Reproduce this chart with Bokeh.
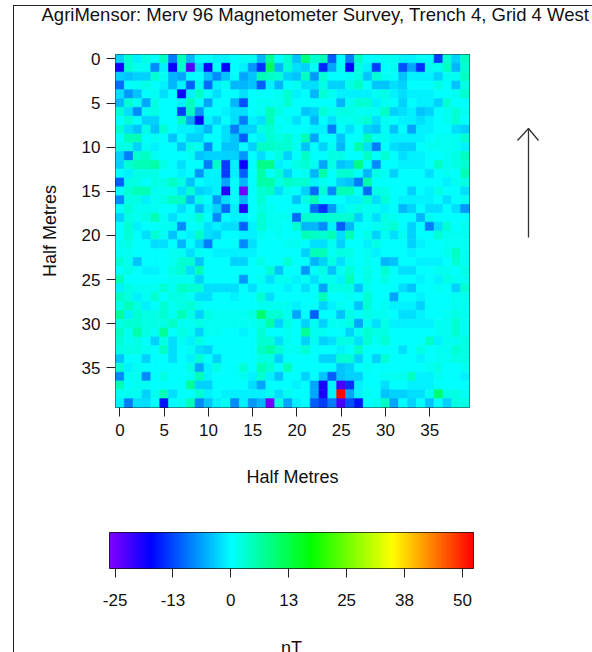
import colorsys
import numpy as np
from bokeh.core.properties import value
from bokeh.embed import file_html
from bokeh.models import ColumnDataSource, Div, FixedTicker, LinearColorMapper, Range1d
from bokeh.plotting import figure
from bokeh.resources import INLINE

title_text = "AgriMensor: Merv 96 Magnetometer Survey, Trench 4, Grid 4 West"
grid_label = "Half Metres"
bar_label = "nT"
grid_ticks = [0, 5, 10, 15, 20, 25, 30, 35]
bar_ticks = [-25, -12.5, 0, 12.5, 25, 37.5, 50]
bar_tick_labels = ["-25", "-13", "0", "13", "25", "38", "50"]
value_low = -26.2
value_high = 52.4

rows = [
    [-3,3,-1,2,0,4,-9,5,-5,0,0,-1,-1,0,1,1,-5,7,0,3,-4,9,3,5,-11,0,-9,4,0,0,1,1,-1,-1,0,0,-13,3,-3,4],
    [-19,3,1,1,-8,-1,-18,3,-23,-2,-18,0,-17,0,-1,-7,-14,11,-5,3,-2,-3,1,-15,-6,1,-17,2,-1,-13,0,1,-12,-6,-14,1,1,4,-5,3],
    [-3,-4,-3,-3,3,1,-5,-6,0,0,-4,-8,-4,0,-6,-4,5,4,3,-3,-4,4,-7,3,0,0,1,2,-4,3,1,0,-4,-1,-1,-1,-3,1,1,4],
    [-10,0,1,2,0,-1,-5,-1,-11,1,-10,-1,1,-5,-5,-4,-11,-1,-5,0,1,-2,-2,2,-3,-3,2,4,0,-4,-4,-2,-3,0,0,0,2,0,-4,2],
    [-2,-7,-4,0,1,-2,0,-18,-1,4,0,-2,0,0,-2,0,0,0,1,3,-1,0,-5,3,1,-1,-1,-1,-1,1,2,-1,-2,-1,-1,-1,0,0,1,3],
    [-5,3,1,-6,2,0,0,-1,5,0,-6,0,0,-5,-12,0,1,1,1,3,0,0,0,0,0,-5,1,3,3,-1,1,0,-3,0,-1,-1,-3,3,0,0],
    [3,-2,-8,1,2,0,0,-13,5,-7,0,0,-1,-2,-2,0,1,5,2,0,0,-4,-3,3,1,2,2,1,1,1,4,-3,-2,-1,-4,-3,0,1,3,1],
    [0,3,0,-3,-3,0,0,4,-6,-18,-1,-3,0,-2,-9,-1,-2,5,0,1,-2,0,-5,0,-2,1,1,2,3,-2,1,0,-1,-1,-2,-1,0,1,3,0],
    [3,-2,-4,2,-4,3,0,-1,-1,-2,-5,0,-2,-9,-3,-3,2,3,1,0,0,0,-1,-1,-9,0,-2,0,-3,-4,1,-4,0,-6,-1,-1,0,0,-2,-3],
    [0,5,5,0,1,0,-4,0,-3,-3,0,0,-2,-4,-11,0,-1,3,2,3,1,5,-6,0,0,-4,0,0,5,1,1,-1,-1,-1,-1,0,1,1,1,3],
    [2,2,-3,1,-1,0,0,-4,2,1,-8,0,-4,-4,0,-3,4,4,3,3,1,-4,0,-3,1,-5,0,6,-2,-9,0,-2,-3,-3,0,1,1,1,1,-1],
    [-3,-9,3,4,1,0,0,0,1,-4,-3,-3,-3,-3,-7,0,-2,0,2,-3,0,4,0,0,2,2,0,0,4,0,3,0,-2,-1,-1,0,0,1,2,4],
    [-3,3,5,5,6,2,0,-2,0,0,-9,4,-13,-1,-18,0,8,8,-1,0,2,3,1,-6,2,-4,-3,9,0,-8,0,0,-1,-1,-1,0,4,1,2,3],
    [0,-1,2,2,2,0,0,-1,0,-7,-1,-1,-13,-1,-11,0,6,0,3,-3,0,1,-5,6,0,3,3,0,-5,2,1,-3,0,0,0,-2,0,1,0,5],
    [-11,2,2,0,2,2,4,2,-4,0,-1,-1,-6,0,-5,0,6,6,2,4,3,3,-1,1,0,-3,-4,-9,6,0,0,0,0,0,0,0,0,-1,1,2],
    [0,3,5,5,1,1,1,-2,3,-3,-2,-1,-20,0,-25,0,3,4,-2,1,0,-3,-10,3,-8,5,5,0,-10,2,2,0,0,-3,0,-1,2,0,0,-2],
    [-8,2,2,-1,1,2,4,4,-5,2,0,-7,-2,0,-5,0,3,0,0,0,-4,2,5,0,0,0,-1,-1,3,-2,3,0,-1,-1,-1,-1,0,-2,0,1],
    [0,3,1,1,1,0,0,-2,0,-5,-1,-3,-10,-1,-20,0,2,1,0,0,0,0,-10,-14,-7,-1,1,2,1,1,-1,0,-5,-3,0,-2,-2,0,-2,-7],
    [-3,2,1,2,5,1,-2,0,1,3,0,-8,0,-1,-1,0,3,1,1,1,-10,3,3,3,3,3,3,-3,1,-2,2,1,0,0,-5,1,0,0,0,0],
    [0,3,-1,0,0,1,1,-8,0,1,-2,-1,-2,-2,-11,-1,3,1,1,0,3,-5,-5,-8,-1,-11,-5,0,0,1,2,3,0,-3,0,-9,-2,3,0,1],
    [0,3,0,-2,3,1,-4,0,-1,4,-2,-3,0,0,-1,-1,1,0,1,0,0,5,4,3,5,-2,5,0,2,-3,1,-2,1,-3,0,0,3,1,1,1],
    [1,2,0,0,-2,-2,0,-5,0,-3,-9,0,0,0,-8,-2,0,0,0,1,1,0,-2,-2,1,-3,0,0,-1,2,0,0,0,-3,-1,0,0,1,1,1],
    [1,1,0,0,0,0,1,1,-2,1,0,-1,-1,-1,-1,-1,0,0,0,0,0,-3,5,5,1,2,2,0,1,-1,0,0,0,-1,0,0,0,1,4,1],
    [3,1,-4,0,0,0,1,3,3,-4,0,0,0,-3,-3,0,2,0,0,3,0,0,-5,-3,2,-2,1,0,1,0,-5,-4,0,0,-1,-1,-1,0,3,1],
    [0,2,0,-1,-1,0,2,3,-2,5,0,0,0,0,0,0,0,3,-4,0,0,-7,0,2,-4,1,3,0,2,0,3,0,-2,-2,0,0,1,1,0,2],
    [5,0,0,0,0,0,1,1,1,-3,0,0,0,0,-7,0,1,-2,1,1,-1,1,-2,1,1,-1,5,0,2,0,2,0,0,0,-1,0,-1,2,1,1],
    [-1,2,1,1,1,3,1,4,3,3,-2,-2,-2,-2,0,-2,0,0,0,-1,0,-2,0,-6,2,2,2,-4,1,0,0,0,-2,-4,0,0,1,0,-3,3],
    [4,2,-1,1,3,0,2,2,1,-2,-2,0,0,-1,0,0,3,-2,0,0,0,0,0,5,0,0,1,0,3,0,0,-6,0,0,-1,0,0,0,1,1],
    [2,5,2,-1,0,3,1,2,3,1,0,0,0,0,0,0,1,1,1,1,-1,0,0,-3,-1,1,0,-4,3,0,1,-1,-1,-1,-3,0,0,0,1,1],
    [7,-1,3,2,2,3,1,5,2,-3,2,1,1,1,1,2,10,3,3,1,-6,0,-11,0,0,-4,2,0,2,1,1,0,-2,-2,-1,0,0,1,2,1],
    [2,3,3,2,2,2,4,1,1,2,1,1,1,1,1,1,2,6,-3,2,0,-3,1,-3,1,1,2,-6,1,-2,2,-1,-1,-1,-1,-1,1,1,3,1],
    [4,1,6,2,1,7,0,2,1,-3,1,1,0,0,-1,0,3,0,0,1,0,7,1,1,0,0,-3,1,3,2,2,0,0,0,0,0,1,1,3,1],
    [3,1,2,0,-3,2,-2,1,-1,2,0,0,0,0,0,0,3,3,-2,1,0,-3,1,-3,-2,2,2,-2,3,1,3,0,0,0,0,4,-1,1,1,2],
    [2,2,2,1,0,4,-2,0,1,-2,-3,0,0,0,0,0,4,6,3,1,1,3,0,0,0,-1,0,4,0,0,0,0,-2,0,2,0,1,1,3,2],
    [-4,0,0,-3,0,0,-2,0,-1,3,0,-3,0,0,0,0,2,2,-3,0,0,0,0,-3,-3,3,3,-3,0,-3,3,0,0,0,-1,0,1,1,2,2],
    [3,-1,1,0,0,0,0,0,2,-6,-1,2,0,0,3,0,5,3,0,5,0,0,0,0,0,-4,-3,0,1,0,0,0,0,0,0,1,2,0,0,1],
    [-8,1,1,-8,0,2,0,0,1,5,-1,0,0,0,1,-1,3,-1,-4,0,0,-3,0,-4,-11,-4,-3,-3,0,0,1,1,1,4,-1,-1,1,0,0,-1],
    [5,0,1,1,0,0,0,0,7,-3,-3,0,0,0,0,-2,-6,0,0,0,-1,0,-6,-19,-1,-22,-14,-1,0,0,-2,0,0,-1,-1,-1,0,0,0,0],
    [1,1,1,-3,1,5,-2,0,0,3,-1,0,-1,-1,-1,-1,-1,1,-2,1,0,0,-6,-19,-1,52,-6,-1,1,0,-4,-3,-3,-2,-2,1,10,2,2,1],
    [-1,-9,-2,-2,0,-16,0,1,5,-8,-4,-1,1,-8,-1,-7,-5,-25,2,-6,-1,0,-11,-13,-9,-22,-12,-16,0,1,4,-6,0,-3,0,-4,0,-3,2,2],
]

FONT = "Liberation Sans"
palette = []
for i in range(256):
    v = value_low + (value_high - value_low) * i / 255
    hue = (180 - v * 180 / value_high) / 360   # rainbow: cyan at 0, red at the top
    r, g, b = colorsys.hsv_to_rgb(max(hue, 0), 1, 1)
    palette.append("#%02x%02x%02x" % (round(r * 255), round(g * 255), round(b * 255)))
mapper = LinearColorMapper(palette=palette, low=value_low, high=value_high)

xs, ys, vals = [], [], []
for j, row in enumerate(rows):
    for i, val in enumerate(row):
        xs.append(i); ys.append(j); vals.append(val)
source = ColumnDataSource(dict(x=xs, y=ys, v=vals))


def at(left, top):
    return {"position": "absolute", "left": f"{left}px", "top": f"{top}px"}


def overlay(left, top, width, height):
    """A transparent figure whose data coordinates are the page's pixels."""
    f = figure(width=width, height=height, output_backend="svg", toolbar_location=None,
               x_range=Range1d(left, left + width), y_range=Range1d(top + height, top),
               min_border_left=0, min_border_right=0, min_border_top=0, min_border_bottom=0,
               border_fill_color=None, background_fill_color=None, outline_line_color=None,
               margin=0, styles=at(left, top))
    f.axis.visible = False
    f.grid.visible = False
    return f


def style_axis(ax):
    ax.major_tick_in = 0
    ax.major_tick_out = 9
    ax.minor_tick_line_color = None
    ax.major_tick_line_color = "#222222"
    ax.major_tick_line_width = 1
    ax.axis_line_color = None
    ax.major_label_text_font = FONT
    ax.major_label_text_font_size = "17px"
    ax.major_label_text_color = "#111111"
    ax.axis_label_text_font = FONT
    ax.axis_label_text_font_size = "18px"
    ax.axis_label_text_font_style = "normal"
    ax.axis_label_text_color = "#111111"


# frame of the page: a left and a top rule only
sheet = Div(text="", width=579, height=647, margin=0,
            styles=dict(at(13, 5), **{"border-left": "1px solid #222", "border-top": "1px solid #222"}))

p = figure(width=592, height=510, output_backend="svg", toolbar_location=None,
           x_range=Range1d(-0.5, 39.5), y_range=Range1d(39.5, -0.5),
           min_border_left=115, min_border_right=123, min_border_top=54, min_border_bottom=103,
           border_fill_color=None, outline_line_color="#222222", outline_line_width=1,
           margin=0, styles=at(0, 0))
p.grid.visible = False
p.rect("x", "y", 1, 1, source=source, fill_color={"field": "v", "transform": mapper},
       line_color={"field": "v", "transform": mapper}, line_width=0.7)

for ax in (p.xaxis[0], p.yaxis[0]):
    style_axis(ax)
    ax.ticker = FixedTicker(ticks=grid_ticks)
    ax.axis_label = grid_label
p.xaxis[0].major_label_standoff = 7
p.xaxis[0].axis_label_standoff = 28
p.yaxis[0].major_label_standoff = 6
p.yaxis[0].axis_label_standoff = 19

bar = figure(width=592, height=142, output_backend="svg", toolbar_location=None,
             x_range=Range1d(value_low, value_high), y_range=Range1d(0, 1),
             min_border_left=109, min_border_right=119, min_border_top=22, min_border_bottom=84,
             border_fill_color=None, outline_line_color="#111111", outline_line_width=1,
             margin=0, styles=at(0, 510))
bar.grid.visible = False
bar.yaxis.visible = False
bar.image(image=[np.linspace(value_low, value_high, 256).reshape(1, 256)],
          x=value_low, y=0, dw=value_high - value_low, dh=1, color_mapper=mapper)
style_axis(bar.xaxis[0])
bar.xaxis[0].ticker = FixedTicker(ticks=bar_ticks)
bar.xaxis[0].major_label_overrides = {t: s for t, s in zip(bar_ticks, bar_tick_labels)}
bar.xaxis[0].major_label_standoff = 16

title_fig = overlay(0, 0, 592, 30)
title_fig.text([41], [14], text=[title_text], text_font=value(FONT), text_font_size="18.5px",
               text_color="#111111", text_baseline="middle", text_align="left")

# the reference cuts this text off at the window's edge
unit_fig = overlay(260, 630, 60, 22)
unit_fig.text([291], [647.5], text=[bar_label], text_font=value(FONT), text_font_size="18px",
              text_color="#111111", text_baseline="middle", text_align="center")

# north arrow
arrow_fig = overlay(500, 115, 60, 130)
arrow_fig.multi_line([[528, 528], [517, 528, 538]], [[237, 128], [140, 128, 140]],
                     line_color="#333333", line_width=1.3)

open("out.html", "w").write(file_html([sheet, p, bar, title_fig, unit_fig, arrow_fig], INLINE))
